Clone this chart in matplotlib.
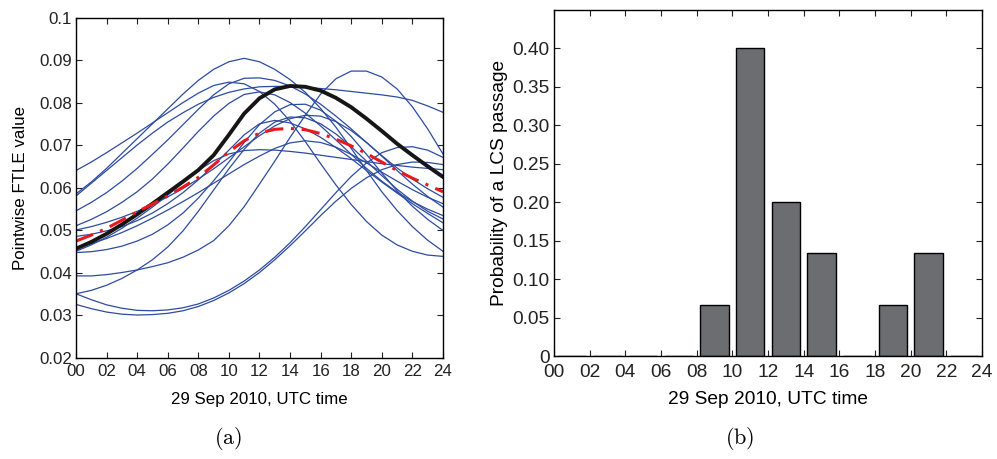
import numpy as np
import matplotlib
matplotlib.use('Agg')
import matplotlib.pyplot as plt

plt.rcParams['font.family'] = ['Liberation Sans', 'DejaVu Sans']
plt.rcParams['mathtext.fontset'] = 'cm'

# hours of 29 Sep 2010 (UTC)
hours = np.arange(0, 25)

# pointwise FTLE of each ensemble member (x 1e-3), one value per hour
members = [
    [64.0, 66.0, 68.2, 70.5, 72.8, 75.2, 77.6, 80.0, 82.2, 84.0, 84.8, 84.4, 82.6, 79.6, 75.6, 70.8, 65.6, 60.6, 56.0, 52.0, 48.8, 46.5, 45.0, 44.1, 43.8],
    [58.5, 61.3, 64.5, 68.0, 71.5, 75.0, 78.5, 82.0, 85.2, 87.8, 89.6, 90.4, 89.6, 87.8, 85.4, 82.4, 78.6, 74.2, 69.2, 64.0, 59.0, 54.6, 50.8, 47.6, 45.0],
    [58.0, 61.0, 64.0, 67.0, 70.0, 72.8, 75.4, 77.6, 79.6, 81.2, 82.4, 83.2, 83.7, 83.8, 83.8, 83.6, 83.3, 83.0, 82.6, 82.2, 81.8, 81.3, 80.5, 79.2, 77.7],
    [54.5, 56.5, 58.8, 61.5, 64.5, 67.8, 71.2, 74.8, 78.4, 81.8, 84.4, 85.7, 85.8, 85.2, 83.9, 82.0, 79.6, 76.8, 73.8, 70.6, 67.5, 64.6, 62.0, 59.7, 57.7],
    [51.0, 52.5, 54.3, 56.5, 59.0, 62.0, 65.5, 69.3, 73.2, 76.8, 79.8, 81.9, 82.5, 81.8, 80.0, 77.5, 74.5, 71.2, 67.8, 64.5, 61.5, 58.9, 56.7, 54.9, 53.4],
    [50.0, 50.8, 51.8, 53.0, 54.4, 56.0, 57.8, 59.8, 62.0, 64.4, 67.0, 69.6, 72.2, 74.5, 76.2, 77.0, 76.8, 75.5, 73.4, 70.6, 67.4, 64.0, 60.8, 57.9, 55.4],
    [48.5, 49.0, 49.8, 50.8, 52.2, 54.0, 56.2, 58.8, 61.8, 65.2, 68.8, 72.4, 75.0, 75.8, 75.2, 73.8, 71.8, 69.4, 66.8, 64.0, 61.3, 58.7, 56.2, 53.9, 51.7],
    [45.7, 46.8, 48.0, 49.4, 51.0, 52.8, 54.7, 56.7, 58.8, 61.0, 63.2, 65.4, 67.4, 69.2, 70.5, 71.0, 70.6, 69.5, 67.8, 65.8, 63.6, 61.5, 59.5, 57.7, 56.2],
    [45.0, 46.5, 48.3, 50.4, 52.8, 55.4, 58.2, 61.2, 64.0, 66.3, 67.9, 68.7, 68.9, 68.8, 68.5, 68.1, 67.6, 67.1, 66.6, 66.1, 65.6, 65.2, 64.8, 64.5, 64.2],
    [44.7, 44.9, 45.4, 46.2, 47.4, 49.0, 51.2, 54.0, 57.5, 61.6, 66.0, 70.6, 74.8, 77.8, 79.5, 79.6, 78.2, 75.6, 72.0, 67.8, 63.4, 59.2, 55.6, 52.5, 49.9],
    [39.2, 39.2, 39.5, 40.0, 40.6, 41.4, 42.3, 43.6, 45.3, 47.5, 51.0, 55.5, 60.8, 66.2, 71.8, 77.0, 82.0, 85.6, 87.4, 87.4, 86.0, 83.2, 79.0, 73.8, 67.9],
    [35.0, 35.8, 37.0, 38.6, 40.6, 43.0, 46.0, 49.8, 54.4, 59.4, 64.4, 69.0, 72.8, 75.4, 76.6, 76.4, 75.0, 72.6, 69.6, 66.2, 62.8, 59.6, 56.8, 54.4, 52.6],
    [35.0, 33.6, 32.4, 31.6, 31.1, 31.0, 31.2, 31.7, 32.6, 34.0, 35.8, 38.0, 40.6, 43.6, 47.0, 50.8, 54.8, 58.8, 62.6, 65.8, 68.2, 69.4, 69.6, 68.8, 67.1],
    [32.5, 31.5, 30.7, 30.2, 30.0, 30.1, 30.4, 31.0, 32.0, 33.4, 35.2, 37.4, 40.0, 43.0, 46.3, 49.8, 53.4, 56.8, 59.8, 62.3, 64.2, 65.4, 66.0, 65.9, 65.4],
]

# thick black curve and red dash-dot curve (x 1e-3)
black_curve = [45.6, 47.2, 49.1, 51.3, 53.7, 56.2, 58.8, 61.4, 64.1, 67.6, 72.4, 77.4, 81.0, 83.1,
               83.9, 83.7, 82.8, 81.1, 78.9, 76.2, 73.3, 70.3, 67.6, 65.0, 62.5]
red_curve = [47.4, 48.8, 50.4, 52.3, 54.3, 56.1, 58.0, 60.1, 62.4, 65.3, 68.4, 71.0, 72.8, 73.7,
             73.9, 73.6, 72.7, 71.4, 69.8, 68.0, 66.0, 64.0, 62.2, 60.6, 59.0]

# probability of a LCS passage in each 2-hour bin
bin_centers = [1, 3, 5, 7, 9, 11, 13, 15, 17, 19, 21, 23]
probability = [0, 0, 0, 0, 1/15, 6/15, 3/15, 2/15, 0, 1/15, 2/15, 0]

xtick_labels = ['%02d' % h for h in range(0, 25, 2)]

fig = plt.figure(figsize=(9.97, 4.59), dpi=100)

# (a) pointwise FTLE
ax1 = fig.add_axes([0.0762, 0.2211, 0.3681, 0.7407])
for m in members:
    ax1.plot(hours, np.array(m) * 1e-3, color='#2d4ca0', linewidth=0.9)
ax1.plot(hours, np.array(black_curve) * 1e-3, color='#161616', linewidth=2.8)
ax1.plot(hours, np.array(red_curve) * 1e-3, color='#e8191c', linewidth=2.2,
         linestyle=(0, (6, 2.5, 1, 2.5)))
ax1.set_xlim(0, 24)
ax1.set_ylim(0.02, 0.1)
ax1.set_yticks(np.arange(0.02, 0.101, 0.01))
ax1.set_yticklabels(['0.02', '0.03', '0.04', '0.05', '0.06', '0.07', '0.08', '0.09', '0.1'])
ax1.set_xticks(range(0, 25, 2))
ax1.set_xticklabels(xtick_labels)
ax1.tick_params(direction='in', top=True, right=True, length=4, width=0.8,
                labelsize=12.2, colors='#222222')
ax1.tick_params(axis='x', pad=5)
ax1.tick_params(axis='y', pad=3)
ax1.set_ylabel('Pointwise FTLE value', fontsize=12.2)
ax1.set_xlabel('29 Sep 2010, UTC time', fontsize=12.2)
ax1.yaxis.set_label_coords(-0.131, 0.5)
ax1.xaxis.set_label_coords(0.5, -0.1)

# (b) LCS passage probability
ax2 = fig.add_axes([0.5557, 0.2244, 0.4293, 0.7538])
ax2.bar(bin_centers, probability, width=1.6, color='#6c6d71', edgecolor='black', linewidth=1.0)
ax2.set_xlim(0, 24)
ax2.set_ylim(0, 0.45)
ax2.set_yticks(np.arange(0, 0.401, 0.05))
ax2.set_yticklabels(['0', '0.05', '0.10', '0.15', '0.20', '0.25', '0.30', '0.35', '0.40'])
ax2.set_xticks(range(0, 25, 2))
ax2.set_xticklabels(xtick_labels)
ax2.tick_params(direction='in', top=True, right=True, length=4.5, width=0.8,
                labelsize=13.8, colors='#222222')
ax2.tick_params(axis='x', pad=6)
ax2.tick_params(axis='y', pad=3)
ax2.set_ylabel('Probability of a LCS passage', fontsize=13.8)
ax2.set_xlabel('29 Sep 2010, UTC time', fontsize=13.8)
ax2.yaxis.set_label_coords(-0.108, 0.5)
ax2.xaxis.set_label_coords(0.5, -0.1)

for ax in (ax1, ax2):
    for s in ax.spines.values():
        s.set_linewidth(1.0)

fig.text(0.229, 0.045, r'$\mathrm{(a)}$', fontsize=16, ha='center', va='center')
fig.text(0.742, 0.045, r'$\mathrm{(b)}$', fontsize=16, ha='center', va='center')

fig.savefig('out.png', dpi=100)
